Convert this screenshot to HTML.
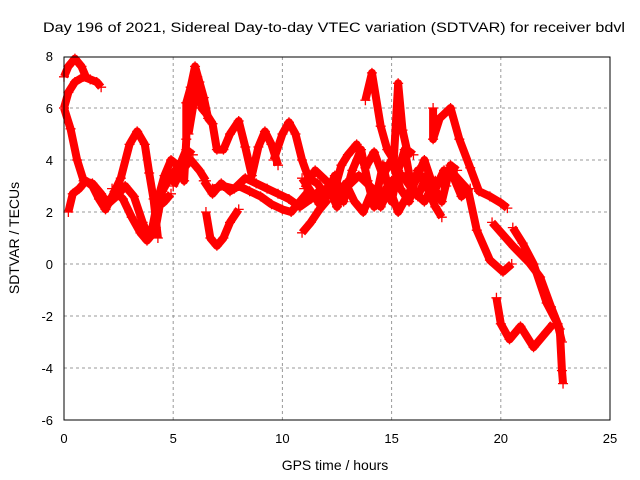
<!DOCTYPE html>
<html><head><meta charset="utf-8"><style>
body{margin:0;background:#fff;}
svg{display:block;font-family:"Liberation Sans",sans-serif;}
</style></head><body>
<svg id="chart" width="640" height="480" viewBox="0 0 640 480">
<rect width="640" height="480" fill="#fff"/>
<g id="grid"></g>
<g id="marks"></g>
<rect x="64" y="57" width="546" height="363" fill="none" stroke="#000" stroke-width="1"/>
<g id="axes" font-size="13"></g>
<text x="43" y="32" font-size="13.5" textLength="582" lengthAdjust="spacingAndGlyphs">Day 196 of 2021, Sidereal Day-to-day VTEC variation (SDTVAR) for receiver bdvl</text>
<text x="335" y="470" font-size="14" text-anchor="middle">GPS time / hours</text>
<text transform="translate(19,238) rotate(-90)" font-size="14" text-anchor="middle">SDTVAR / TECUs</text>
</svg>
<script>
const xTicks=[0,5,10,15,20,25];
const yTicks=[-6,-4,-2,0,2,4,6,8];
const trackA=[[0,7.2],[0.2,7.6],[0.5,7.9],[0.8,7.6],[1.0,7.2]];
const trackB=[[0,6.0],[0.2,6.6],[0.5,7.0],[0.9,7.2],[1.2,7.1],[1.5,7.0],[1.7,6.8]];
const trackC=[[0,6.0],[0.3,5.2],[0.6,4.0],[0.9,3.2],[1.3,3.1],[1.7,2.7],[2.0,2.3],[2.4,2.6],[2.8,3.0],[3.2,2.6],[3.6,1.6],[3.9,1.0],[4.2,1.4],[4.5,2.8],[4.9,3.4],[5.3,3.8],[5.6,4.4],[5.9,4.2]];
const trackD=[[0.2,2.0],[0.4,2.7],[0.7,2.9],[1.0,3.2],[1.3,3.0],[1.6,2.5],[1.9,2.1],[2.2,2.6],[2.6,3.3],[3.0,4.6],[3.35,5.1],[3.7,4.6],[3.9,3.5],[4.1,2.5],[4.3,1.0]];
const trackD2=[[2.2,2.9],[2.7,2.5],[3.1,1.8],[3.5,1.2],[3.8,0.9],[4.0,1.1],[4.3,2.2],[4.6,2.4],[4.9,2.7]];
const trackE=[[4.0,1.2],[4.3,2.5],[4.6,3.4],[4.9,4.0],[5.2,3.8],[5.5,3.2],[5.6,4.8],[5.6,6.2],[5.8,6.8],[6.0,7.6],[6.2,7.0],[6.4,6.4],[6.6,5.6],[6.8,5.4],[7.0,4.4],[7.3,4.4],[7.6,5.0],[8.0,5.5],[8.3,4.5],[8.6,3.4],[8.9,4.5],[9.2,5.1],[9.5,4.6],[9.8,3.8]];
const trackE2=[[5.0,3.0],[5.4,3.6],[5.8,4.0],[6.2,3.6],[6.5,3.2]];
const trackE3=[[5.7,5.0],[5.9,6.0],[6.1,7.2],[6.3,6.0],[6.5,5.8],[6.8,5.4]];
const trackF=[[6.5,2.0],[6.7,1.0],[7.0,0.7],[7.3,1.0],[7.6,1.6],[8.0,2.1]];
const trackG=[[9.6,4.0],[10.0,5.0],[10.3,5.45],[10.6,5.0],[10.9,4.0],[11.2,3.3],[11.6,3.1],[12.0,2.6],[12.4,3.4],[12.8,2.4],[13.2,3.6],[13.6,4.4],[13.9,3.2],[14.2,2.2],[14.6,3.8],[15.0,2.4],[15.3,3.6],[15.6,4.4],[15.9,3.0],[16.2,2.6],[16.6,3.4],[17.0,2.9],[17.4,3.6],[17.8,3.4],[18.2,2.6],[18.6,2.9]];
const trackH=[[10.9,3.3],[11.3,2.8],[11.7,2.3],[12.1,3.0],[12.5,2.2],[12.9,3.1],[13.3,2.4],[13.7,2.0],[14.1,2.8],[14.5,2.2],[14.9,2.9],[15.3,2.0],[15.7,2.6],[16.1,3.2],[16.5,4.0],[16.9,3.0],[17.3,2.4],[17.7,3.8],[18.0,3.6]];
const trackI=[[12.3,2.6],[12.7,3.8],[13.0,4.2],[13.4,4.6],[13.8,3.7],[14.2,4.3],[14.6,3.4],[15.0,4.0],[15.4,2.9],[15.8,2.4],[16.2,3.6],[16.6,3.0],[17.0,2.2],[17.3,1.8]];
const trackI2=[[11.0,2.9],[11.5,3.6],[12.0,3.2],[12.5,2.8],[13.0,3.0],[13.5,3.4],[14.0,3.0],[14.5,2.6],[15.0,3.2],[15.5,3.4],[16.0,2.8],[16.5,2.4],[17.0,3.2],[17.5,3.0]];
const trackJ=[[6.4,3.2],[6.8,2.7],[7.2,3.1],[7.6,2.8],[8.0,3.0],[8.5,2.8],[9.0,2.6],[9.5,2.3],[10.0,2.1],[10.4,2.0],[10.8,2.4],[11.2,2.8]];
const trackK=[[6.8,2.9],[7.3,3.0],[7.8,2.9],[8.3,3.3],[8.8,3.1],[9.3,2.9],[9.8,2.7],[10.3,2.5],[10.8,2.2],[11.3,2.5],[11.8,2.9]];
const trackL=[[10.9,1.2],[11.3,1.6],[11.7,2.1],[12.1,2.5]];
const trackM=[[13.8,6.3],[14.1,7.35],[14.5,5.3],[14.8,4.4],[15.1,4.0],[15.3,6.95],[15.5,5.15],[15.7,4.4],[16.0,4.2]];
const trackN=[[16.9,6.0],[16.9,4.8],[17.2,5.6],[17.7,6.0],[18.1,4.8],[18.6,3.7],[19.0,2.8],[19.5,2.6],[20.0,2.35],[20.3,2.15]];
const trackO=[[17.8,3.5],[18.5,2.85],[18.9,1.3],[19.5,0.15],[20.1,-0.3],[20.5,0.0]];
const trackP=[[19.6,1.6],[20.6,0.65],[21.3,0.05],[21.8,-0.5],[22.3,-1.65],[22.7,-2.5],[22.8,-4.1],[22.85,-4.6]];
const trackQ=[[20.55,1.4],[21.0,0.8],[21.5,0.0],[22.1,-1.5],[22.6,-2.3],[22.8,-3.0]];
const trackR=[[19.8,-1.3],[20.0,-2.3],[20.4,-2.9],[20.9,-2.4],[21.5,-3.2],[22.1,-2.6],[22.4,-2.3]];
const series=[trackA,trackB,trackC,trackD,trackD2,trackE,trackE2,trackE3,trackF,trackG,trackH,trackI,trackI2,trackJ,trackK,trackL,trackM,trackN,trackO,trackP,trackQ,trackR];
const NS="http://www.w3.org/2000/svg";
const X=t=>64+t*546/25;
const Y=v=>264-v*26;
const grid=document.getElementById('grid'),axes=document.getElementById('axes'),marks=document.getElementById('marks');
xTicks.forEach(t=>{
  if(t>0&&t<25){const l=document.createElementNS(NS,'line');
  
  
  l.setAttribute('x1',X(t));l.setAttribute('x2',X(t));l.setAttribute('y1',57);l.setAttribute('y2',420);
  l.setAttribute('stroke','#999');l.setAttribute('stroke-dasharray','3,3');grid.appendChild(l);}
  const tx=document.createElementNS(NS,'text');
  
  
  tx.setAttribute('x',X(t));tx.setAttribute('y',443);tx.setAttribute('text-anchor','middle');tx.textContent=t;axes.appendChild(tx);
});
yTicks.forEach(v=>{
  if(v>-6&&v<8){const l=document.createElementNS(NS,'line');
  
  
  l.setAttribute('x1',64);l.setAttribute('x2',610);l.setAttribute('y1',Y(v));l.setAttribute('y2',Y(v));
  l.setAttribute('stroke','#999');l.setAttribute('stroke-dasharray','3,3');grid.appendChild(l);}
  const tx=document.createElementNS(NS,'text');
  
  
  tx.setAttribute('x',53);tx.setAttribute('y',Y(v)+5);tx.setAttribute('text-anchor','end');tx.textContent=v;axes.appendChild(tx);
});
series.forEach(s=>{
  const p=document.createElementNS(NS,'polyline');
  
  
  p.setAttribute('points',s.map(d=>X(d[0])+','+Y(d[1])).join(' '));
  p.setAttribute('fill','none');p.setAttribute('stroke','#f00');p.setAttribute('stroke-width','8');p.setAttribute('stroke-linejoin','round');
  marks.appendChild(p);
  s.forEach(d=>{
    const m=document.createElementNS(NS,'path');
    
    
    const x=X(d[0]),y=Y(d[1]);
    m.setAttribute('d',`M${x-5},${y}H${x+5}M${x},${y-5}V${y+5}`);
    m.setAttribute('stroke','#f00');m.setAttribute('stroke-width','1.3');
    marks.appendChild(m);
  });
});
</script>
</body></html>
